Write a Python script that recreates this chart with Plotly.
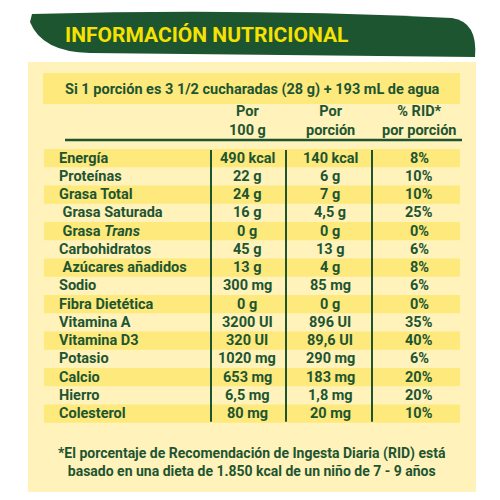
import plotly.graph_objects as go

nutrients = ["Energía", "Proteínas", "Grasa Total", " Grasa Saturada", " Grasa <i>Trans</i>",
             "Carbohidratos", " Azúcares añadidos", "Sodio", "Fibra Dietética", "Vitamina A",
             "Vitamina D3", "Potasio", "Calcio", "Hierro", "Colesterol"]
per_100g = ["490 kcal", "22 g", "24 g", "16 g", "0 g", "45 g", "13 g", "300 mg", "0 g",
            "3200 UI", "320 UI", "1020 mg", "653 mg", "6,5 mg", "80 mg"]
per_portion = ["140 kcal", "6 g", "7 g", "4,5 g", "0 g", "13 g", "4 g", "85 mg", "0 g",
               "896 UI", "89,6 UI", "290 mg", "183 mg", "1,8 mg", "20 mg"]
rid = ["8%", "10%", "10%", "25%", "0%", "6%", "8%", "6%", "0%", "35%", "40%", "6%",
       "20%", "20%", "10%"]

GREEN = "#1e5531"
PANEL = "#fff2bb"
STRIPE = "#fde97c"
FONT = "Roboto"

fig = go.Figure()
shapes = []
ann = []

# banner
shapes.append(dict(type="path", path="M 32,14 Q 250,8 452,18 Q 478,22 475,57 L 90,53 Q 42,52 30,22 Z",
                   fillcolor=GREEN, line_width=0))
ann.append(dict(x=63, y=35, text="<b>INFORMACIÓN NUTRICIONAL</b>", xanchor="left",
                font=dict(size=21, color="#f6e200", family=FONT)))
# panel
shapes.append(dict(type="rect", x0=28, x1=476, y0=62, y1=492, fillcolor=PANEL, line_width=0,
                   layer="below"))
shapes.append(dict(type="rect", x0=43, x1=460, y0=73, y1=104, fillcolor=STRIPE, line_width=0))
ann.append(dict(x=252, y=89, text="<b>Si 1 porción es 3 1/2 cucharadas (28 g) + 193 mL de agua</b>",
                font=dict(size=14.5, color=GREEN, family=FONT)))
cols = [247, 330, 419]
heads = ["<b>Por<br>100 g</b>", "<b>Por<br>porción</b>", "<b>% RID*<br>por porción</b>"]
for x, h in zip(cols, heads):
    ann.append(dict(x=x, y=121, text=h, font=dict(size=14.5, color=GREEN, family=FONT)))
shapes.append(dict(type="line", x0=65, x1=462, y0=140, y1=140, line=dict(color=GREEN, width=2.5)))

y0, h = 149, 18.25
for i, name in enumerate(nutrients):
    yc = y0 + h * (i + 0.5)
    if i % 2 == 0:
        shapes.append(dict(type="rect", x0=44, x1=460, y0=y0 + h * i, y1=y0 + h * (i + 1),
                           fillcolor=STRIPE, line_width=0, layer="below"))
    ann.append(dict(x=57, y=yc, text="<b>" + name + "</b>", xanchor="left",
                    font=dict(size=14.5, color=GREEN, family=FONT)))
    for x, v in zip(cols, [per_100g[i], per_portion[i], rid[i]]):
        ann.append(dict(x=x, y=yc, text="<b>" + v + "</b>", font=dict(size=14.5, color=GREEN, family=FONT)))
for x in [211, 286, 372]:
    shapes.append(dict(type="line", x0=x, x1=x, y0=150, y1=y0 + h * len(nutrients) - 1,
                       line=dict(color=GREEN, width=2)))

ann.append(dict(x=252, y=462, text="<b>*El porcentaje de Recomendación de Ingesta Diaria (RID) está<br>"
                                   "basado en una dieta de 1.850 kcal de un niño de 7 - 9 años</b>",
                font=dict(size=14, color=GREEN, family=FONT)))

for a in ann:
    a.update(xref="x", yref="y", showarrow=False)
for s in shapes:
    s.update(xref="x", yref="y")

fig.update_layout(width=500, height=500, margin=dict(l=0, r=0, t=0, b=0),
                  paper_bgcolor="white", plot_bgcolor="white",
                  shapes=shapes, annotations=ann, showlegend=False)
fig.update_xaxes(range=[0, 500], visible=False)
fig.update_yaxes(range=[500, 0], visible=False)
fig.write_html("out.html", config={"displayModeBar": False},
               post_script="document.body.style.margin='0';")
